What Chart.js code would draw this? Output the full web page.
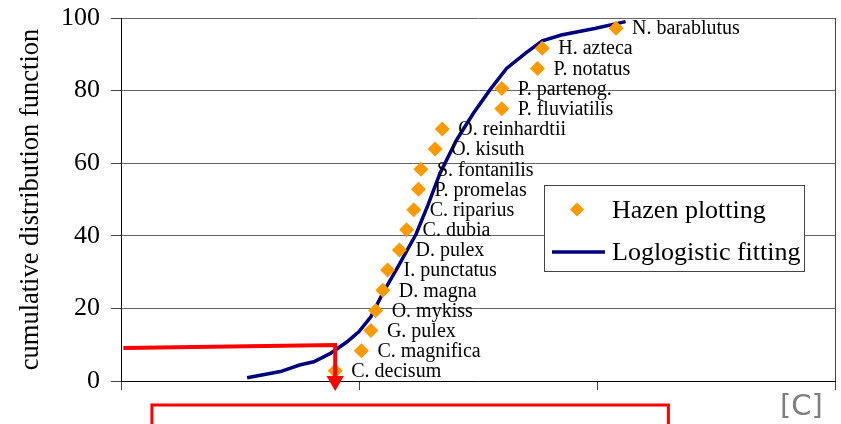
<!DOCTYPE html>
<html>
<head>
<meta charset="utf-8">
<script src="https://cdn.jsdelivr.net/npm/chart.js@4"></script>
<style>
  html, body { margin: 0; padding: 0; background: #fff; }
  #wrap { position: relative; width: 841px; height: 424px; }
</style>
</head>
<body>
<div id="wrap"><canvas id="chart" width="841" height="424"></canvas></div>
<script>
// species, sorted by toxicity (Hazen plotting positions)
const species = [
  'C. decisum', 'C. magnifica', 'G. pulex', 'O. mykiss', 'D. magna', 'I. punctatus',
  'D. pulex', 'C. dubia', 'C. riparius', 'P. promelas', 'S. fontanilis', 'O. kisuth',
  'O. reinhardtii', 'P. fluviatilis', 'P. partenog.', 'P. notatus', 'H. azteca', 'N. barablutus'
];
const hazenX = [0.90, 1.01, 1.05, 1.07, 1.10, 1.12, 1.17, 1.20, 1.23, 1.25, 1.26, 1.32, 1.35, 1.60, 1.60, 1.75, 1.77, 2.08];
const hazenY = [2.8, 8.3, 13.9, 19.4, 25.0, 30.6, 36.1, 41.7, 47.2, 52.8, 58.3, 63.9, 69.4, 75.0, 80.6, 86.1, 91.7, 97.2];

// loglogistic fitting curve
const fitX = [0.53, 0.67, 0.75, 0.81, 0.88, 0.95, 1.00, 1.05, 1.10, 1.16, 1.24, 1.29, 1.34, 1.41, 1.48, 1.55, 1.62, 1.70, 1.77, 1.85, 1.99, 2.12];
const fitY = [0.9, 2.6, 4.4, 5.3, 7.6, 10.8, 13.6, 17.7, 24.2, 31.0, 40.5, 48.5, 57.2, 66.4, 73.7, 80.2, 86.1, 90.3, 93.7, 95.3, 97.1, 99.0];

// red annotation (HC5 read-off) and box below the axis
const hcX = [0.01, 0.90, 0.90];
const hcY = [9.1, 9.9, 0];
const boxX = [0.13, 0.13, 2.30, 2.30];
const boxY = [-12, -6.6, -6.6, -12];

const yTicks = [0, 20, 40, 60, 80, 100];
const xTicks = [0, 1, 2, 3];

const serif = "'Liberation Serif', 'Times New Roman', serif";
const toXY = (xs, ys) => xs.map((x, i) => ({ x: x, y: ys[i] }));

const labelPlugin = {
  id: 'pointLabels',
  afterDatasetsDraw(chart) {
    const ctx = chart.ctx;
    const meta = chart.getDatasetMeta(0);
    ctx.save();
    ctx.font = '20px ' + serif;
    ctx.fillStyle = '#000';
    ctx.textBaseline = 'middle';
    meta.data.forEach((pt, i) => {
      ctx.fillText(species[i], pt.x + 16, pt.y + 1);
    });
    ctx.restore();
  },
};

const legendPlugin = {
  id: 'boxLegend',
  afterDraw(chart) {
    const ctx = chart.ctx;
    const left = 544, top = 185, w = 260, h = 86;
    ctx.save();
    ctx.fillStyle = '#fff';
    ctx.fillRect(left, top, w, h);
    ctx.strokeStyle = '#444';
    ctx.lineWidth = 1;
    ctx.strokeRect(left + 0.5, top + 0.5, w, h);

    ctx.fillStyle = '#FF9900';
    ctx.beginPath();
    ctx.moveTo(577, 202.5);
    ctx.lineTo(584, 209.5);
    ctx.lineTo(577, 216.5);
    ctx.lineTo(570, 209.5);
    ctx.closePath();
    ctx.fill();

    ctx.strokeStyle = '#000080';
    ctx.lineWidth = 3.5;
    ctx.beginPath();
    ctx.moveTo(552, 252);
    ctx.lineTo(605, 252);
    ctx.stroke();

    ctx.fillStyle = '#000';
    ctx.font = '26px ' + serif;
    ctx.textBaseline = 'middle';
    ctx.fillText(chart.data.datasets[0].label, 612, 211);
    ctx.fillText(chart.data.datasets[1].label, 612, 253);

    ctx.fillStyle = '#808080';
    ctx.font = "29px 'DejaVu Sans', sans-serif";
    ctx.textBaseline = 'alphabetic';
    ctx.fillText('[C]', 780, 415);
    ctx.restore();
  },
};

new Chart(document.getElementById('chart'), {
  type: 'line',
  data: {
    datasets: [
      {
        label: 'Hazen plotting',
        data: toXY(hazenX, hazenY),
        showLine: false,
        pointStyle: 'rectRot',
        pointRadius: 7.5,
        pointBackgroundColor: '#FF9900',
        pointBorderWidth: 0,
        order: 1,
      },
      {
        label: 'Loglogistic fitting',
        data: toXY(fitX, fitY),
        borderColor: '#000080',
        borderWidth: 3.5,
        pointRadius: 0,
        tension: 0,
        order: 2,
      },
      {
        label: 'hc5',
        data: toXY(hcX, hcY),
        borderColor: '#FF0000',
        borderWidth: 4,
        tension: 0,
        clip: false,
        pointRadius: [0, 0, 10],
        pointStyle: 'triangle',
        pointRotation: 180,
        pointBackgroundColor: '#FF0000',
        pointBorderWidth: 0,
        order: 0,
      },
      {
        label: 'box',
        data: toXY(boxX, boxY),
        borderColor: '#FF0000',
        borderWidth: 3,
        tension: 0,
        clip: false,
        pointRadius: 0,
        order: 0,
      },
    ],
  },
  options: {
    responsive: false,
    animation: false,
    events: [],
    layout: { autoPadding: false, padding: { top: 18, right: 6, left: 0, bottom: 0 } },
    plugins: {
      legend: { display: false },
      tooltip: { enabled: false },
    },
    scales: {
      x: {
        type: 'linear',
        min: 0,
        max: 3,
        afterBuildTicks: (scale) => { scale.ticks = xTicks.map((v) => ({ value: v })); },
        afterFit: (scale) => {
          scale.height = 43;
          scale.paddingLeft = 0;
          scale.paddingRight = 0;
        },
        ticks: { display: false },
        border: { color: '#000', width: 1 },
        grid: {
          color: (c) => (c.tick && c.tick.value === 3 ? '#444' : 'rgba(0,0,0,0)'),
          tickColor: '#444',
          tickLength: 9,
          drawTicks: true,
        },
      },
      y: {
        min: 0,
        max: 100,
        afterBuildTicks: (scale) => { scale.ticks = yTicks.map((v) => ({ value: v })); },
        afterFit: (scale) => {
          scale.width = 121;
          scale.paddingTop = 0;
          scale.paddingBottom = 0;
        },
        ticks: {
          color: '#000',
          padding: 11,
          font: { family: serif, size: 26 },
        },
        border: { color: '#000', width: 1 },
        grid: {
          color: '#666',
          tickColor: '#444',
          tickLength: 10,
        },
        title: {
          display: true,
          text: 'cumulative distribution function',
          color: '#000',
          font: { family: serif, size: 26.5 },
          padding: { top: 15, bottom: 0 },
        },
      },
    },
  },
  plugins: [labelPlugin, legendPlugin],
});
</script>
</body>
</html>
